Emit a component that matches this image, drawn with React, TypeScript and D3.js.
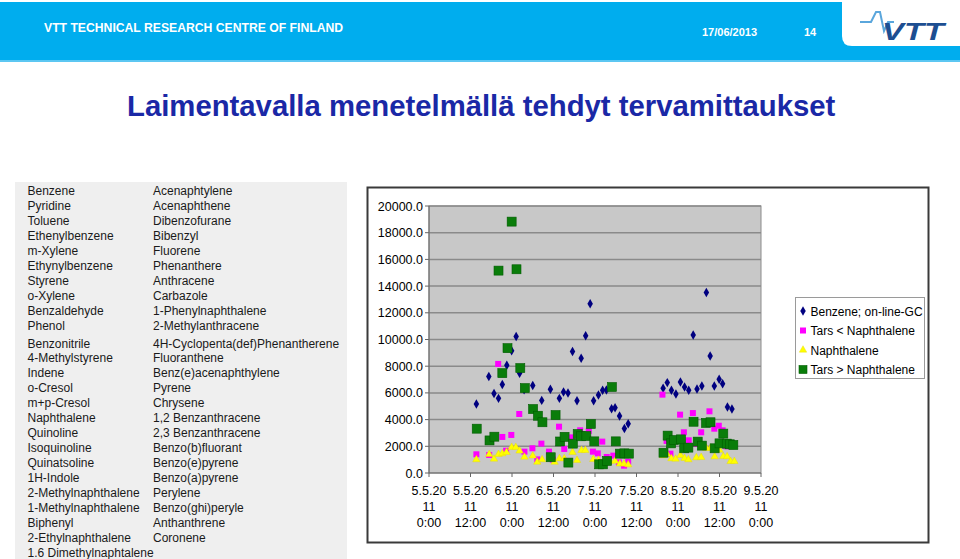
import React from "react";
import * as d3 from "d3";

// ---------- DATA (hours after 5.5.2011 0:00, concentration) ----------
const benzeneHours = [13.7,17.3,18.8,20.1,21.2,22.5,23.9,25.2,26.2,27.5,30.0,32.6,35.1,37.7,38.9,40.2,41.5,42.8,44.0,45.3,46.6,47.6,49.0,50.2,51.3,52.8,53.8,55.1,56.5,57.6,67.7,68.9,70.1,71.4,72.7,73.9,75.1,76.4,77.5,78.9,80.2,81.3,82.5,83.9,84.9,86.3,87.6];
const benzeneValues = [5160,7230,5960,5590,6630,8080,9150,10220,7480,6230,6560,5440,6280,5590,6060,5990,9100,5420,8600,10280,12670,5420,5840,6190,6210,4820,4880,4270,3340,3690,6340,6770,6190,5920,6820,6440,6190,10340,6290,6520,13520,8760,6520,7020,6690,4940,4790];

const tarsLowHours = [13.7,17.4,20.0,21.2,22.3,23.8,26.1,27.6,29.9,31.3,32.5,34.7,35.8,37.6,39.1,41.3,43.7,46.2,47.4,48.8,50.1,51.4,53.3,54.9,56.4,57.6,67.5,68.7,69.8,72.6,73.7,75.1,76.3,77.4,78.7,81.1,82.5,83.8,84.9,86.0];
const tarsLowValues = [1400,1350,8170,2700,1670,2850,4420,1600,1850,1020,2200,1600,1000,3470,1800,2670,3200,3150,1600,1470,2350,1200,1300,800,550,850,5870,2400,1450,4370,3050,2450,4490,2170,3050,4620,3320,3540,3200,2000];

const naphHours = [13.7,17.4,18.8,20.1,21.2,22.4,23.9,25.1,26.2,27.6,30.0,31.3,32.7,36.3,37.7,39.1,41.5,42.8,44.1,45.2,47.5,49.0,52.3,53.8,55.2,56.4,57.6,67.7,68.9,70.1,71.3,72.7,73.9,75.0,77.3,78.7,80.2,81.4,82.6,84.0,85.1,86.2,87.2,88.3];
const naphValues = [1000,1400,1050,1400,1450,1550,1930,1930,1650,1200,1280,820,1000,820,1080,1080,1550,950,1700,1700,1020,970,900,900,680,680,620,1300,1400,1080,1050,1330,1100,1000,1150,1170,1850,1870,1220,1720,1240,1230,870,870];

const tarsHighHours = [13.8,17.5,18.9,20.1,21.2,22.7,23.9,25.3,26.4,27.7,30.1,31.5,32.8,35.2,36.6,37.9,39.2,40.3,41.6,43.0,44.0,45.5,46.8,47.8,49.2,50.3,51.5,52.9,54.0,55.2,56.5,57.8,67.8,69.0,70.0,70.9,72.9,73.8,75.0,76.5,77.7,78.9,80.1,81.4,82.6,84.0,85.1,86.1,87.0,88.0];
const tarsHighValues = [3320,2440,2720,15160,7480,9350,18830,15260,7860,6360,4790,4290,3800,1180,4340,2360,2710,780,2200,2920,2750,2770,3670,2370,650,650,900,6440,2370,1450,1470,1450,1520,2800,2220,2470,2520,1850,1900,3840,2350,2050,3750,3800,1850,2220,2950,2200,2150,2100];

const seriesNames = ["Benzene; on-line-GC", "Tars < Naphthalene", "Naphthalene", "Tars > Naphthalene"];
const yTicks = [0, 2000, 4000, 6000, 8000, 10000, 12000, 14000, 16000, 18000, 20000];
const xTickHours = [0, 12, 24, 36, 48, 60, 72, 84, 96];
const xTickLabels = [
  ["5.5.20", "11", "0:00"], ["5.5.20", "11", "12:00"], ["6.5.20", "11", "0:00"],
  ["6.5.20", "11", "12:00"], ["7.5.20", "11", "0:00"], ["7.5.20", "11", "12:00"],
  ["8.5.20", "11", "0:00"], ["8.5.20", "11", "12:00"], ["9.5.20", "11", "0:00"],
];

const compoundsLeft = ["Benzene","Pyridine","Toluene","Ethenylbenzene","m-Xylene","Ethynylbenzene","Styrene","o-Xylene","Benzaldehyde","Phenol","Benzonitrile","4-Methylstyrene","Indene","o-Cresol","m+p-Cresol","Naphthalene","Quinoline","Isoquinoline","Quinatsoline","1H-Indole","2-Methylnaphthalene","1-Methylnaphthalene","Biphenyl","2-Ethylnaphthalene","1.6 Dimethylnaphtalene"];
const compoundsRight = ["Acenaphtylene","Acenaphthene","Dibenzofurane","Bibenzyl","Fluorene","Phenanthere","Anthracene","Carbazole","1-Phenylnaphthalene","2-Methylanthracene","4H-Cyclopenta(def)Phenantherene","Fluoranthene","Benz(e)acenaphthylene","Pyrene","Chrysene","1,2 Benzanthracene","2,3 Benzanthracene","Benzo(b)fluorant","Benzo(e)pyrene","Benzo(a)pyrene","Perylene","Benzo(ghi)peryle","Anthanthrene","Coronene"];

const headerText = "VTT TECHNICAL RESEARCH CENTRE OF FINLAND";
const dateText = "17/06/2013";
const pageText = "14";
const titleText = "Laimentavalla menetelmällä tehdyt tervamittaukset";

const FONT = "'Liberation Sans', Arial, sans-serif";
const start = new Date(2011, 4, 5, 0, 0);
const toDate = (h: number) => d3.timeMinute.offset(start, Math.round(h * 60));

export default function App() {
  const W = 960, H = 559;
  const plot = { left: 429, right: 761, top: 206, bottom: 473 };
  const x = d3.scaleTime().domain([start, toDate(96)]).range([plot.left, plot.right]);
  const y = d3.scaleLinear().domain([0, 20000]).range([plot.bottom, plot.top]);

  const diamond = d3.symbol().type(d3.symbolDiamond).size(26)() as string;
  const triangle = d3.symbol().type(d3.symbolTriangle).size(24)() as string;

  const rowY = (i: number) => 195 + i * 14.95 + (i >= 10 ? 3 : 0);

  const legendItems = [
    { name: seriesNames[0], kind: "diamond" },
    { name: seriesNames[1], kind: "magenta" },
    { name: seriesNames[2], kind: "triangle" },
    { name: seriesNames[3], kind: "green" },
  ];

  const marker = (kind: string, cx: number, cy: number, key: any, legend = false) => {
    if (kind === "diamond")
      return <path key={key} d={diamond} transform={`translate(${cx},${cy})`} fill="#000080" />;
    if (kind === "magenta") {
      const s = 6;
      return <rect key={key} x={cx - s / 2} y={cy - s / 2} width={s} height={s} fill="#ff00ff" />;
    }
    if (kind === "triangle")
      return <path key={key} d={triangle} transform={`translate(${cx},${cy})`} fill="#ffff00" stroke="#e6d800" strokeWidth={0.4} />;
    const s = legend ? 8 : 9;
    return <rect key={key} x={cx - s / 2} y={cy - s / 2} width={s} height={s} fill="#0a7d0a" stroke="#005c00" strokeWidth={0.6} />;
  };

  return (
    <svg width={W} height={H} style={{ position: "absolute", left: 0, top: 0, background: "#ffffff" }} fontFamily={FONT}>
      {/* header */}
      <rect x={0} y={0} width={W} height={H} fill="#ffffff" />
      <rect x={0} y={2} width={W} height={60} fill="#00adee" />
      <rect x={0} y={60} width={W} height={2} fill="#5cc7f2" />
      <path d={`M842,2 H960 V46 H852 Q842,46 842,36 Z`} fill="#ffffff" />
      <text x={44} y={32} fill="#ffffff" fontSize={12.2} fontWeight="bold">{headerText}</text>
      <text x={702} y={36} fill="#ffffff" fontSize={11} fontWeight="bold">{dateText}</text>
      <text x={804} y={36} fill="#ffffff" fontSize={11} fontWeight="bold">{pageText}</text>
      <path d="M860,22 L871,22 L876,12 L880,12 L884,31 L888,22 L894,22" fill="none" stroke="#5aa6dc" strokeWidth={2} />
      <text x={882} y={40} fill="#1d4e91" fontSize={23} fontWeight="900" fontStyle="italic" textLength={62} lengthAdjust="spacingAndGlyphs">VTT</text>

      {/* title */}
      <text x={127} y={116} fill="#1a28a6" fontSize={29.3} fontWeight="bold">{titleText}</text>

      {/* compound table */}
      <rect x={15} y={182} width={332} height={377} fill="#efefef" />
      {compoundsLeft.map((c, i) => (
        <text key={"l" + i} x={27.5} y={rowY(i)} fontSize={12} fill="#1a1a1a">{c}</text>
      ))}
      {compoundsRight.map((c, i) => (
        <text key={"r" + i} x={153} y={rowY(i)} fontSize={12} fill="#1a1a1a">{c}</text>
      ))}

      {/* chart frame */}
      <rect x={367.5} y={187.5} width={561} height={355} fill="#ffffff" stroke="#3a3a3a" strokeWidth={2} />

      {/* plot area */}
      <rect x={plot.left} y={plot.top} width={plot.right - plot.left} height={plot.bottom - plot.top} fill="#c8c8c8" stroke="#8c8c8c" strokeWidth={1} />
      {yTicks.map((t) => (
        <g key={"yt" + t}>
          {t > 0 && <line x1={plot.left} x2={plot.right} y1={y(t)} y2={y(t)} stroke="#8a8a8a" strokeWidth={1.5} />}
          <line x1={plot.left - 4} x2={plot.left} y1={y(t)} y2={y(t)} stroke="#666" strokeWidth={1} />
          <text x={423} y={y(t) + 4.5} textAnchor="end" fontSize={12.5} fill="#000">{d3.format(".1f")(t)}</text>
        </g>
      ))}
      <line x1={plot.left} x2={plot.left} y1={plot.top} y2={plot.bottom} stroke="#666" strokeWidth={1} />
      <line x1={plot.left} x2={plot.right} y1={plot.bottom} y2={plot.bottom} stroke="#666" strokeWidth={1} />
      {xTickHours.map((h, i) => (
        <g key={"xt" + i}>
          <line x1={x(toDate(h))} x2={x(toDate(h))} y1={plot.bottom} y2={plot.bottom + 4} stroke="#666" strokeWidth={1} />
          {xTickLabels[i].map((s, j) => (
            <text key={j} x={x(toDate(h))} y={495 + j * 16} textAnchor="middle" fontSize={12.5} fill="#000">{s}</text>
          ))}
        </g>
      ))}

      {/* series */}
      <g>{benzeneHours.map((h, i) => marker("diamond", x(toDate(h)), y(benzeneValues[i]), "b" + i))}</g>
      <g>{tarsLowHours.map((h, i) => marker("magenta", x(toDate(h)), y(tarsLowValues[i]), "m" + i))}</g>
      <g>{naphHours.map((h, i) => marker("triangle", x(toDate(h)), y(naphValues[i]), "n" + i))}</g>
      <g>{tarsHighHours.map((h, i) => marker("green", x(toDate(h)), y(tarsHighValues[i]), "g" + i))}</g>

      {/* legend */}
      <rect x={795.5} y={297.5} width={129} height={81} fill="#ffffff" stroke="#9a9a9a" strokeWidth={1} />
      {legendItems.map((it, i) => (
        <g key={"lg" + i}>
          {marker(it.kind, 803, 311 + i * 19.5, "lm" + i, true)}
          <text x={810.5} y={315.5 + i * 19.5} fontSize={12} fill="#000">{it.name}</text>
        </g>
      ))}
    </svg>
  );
}
